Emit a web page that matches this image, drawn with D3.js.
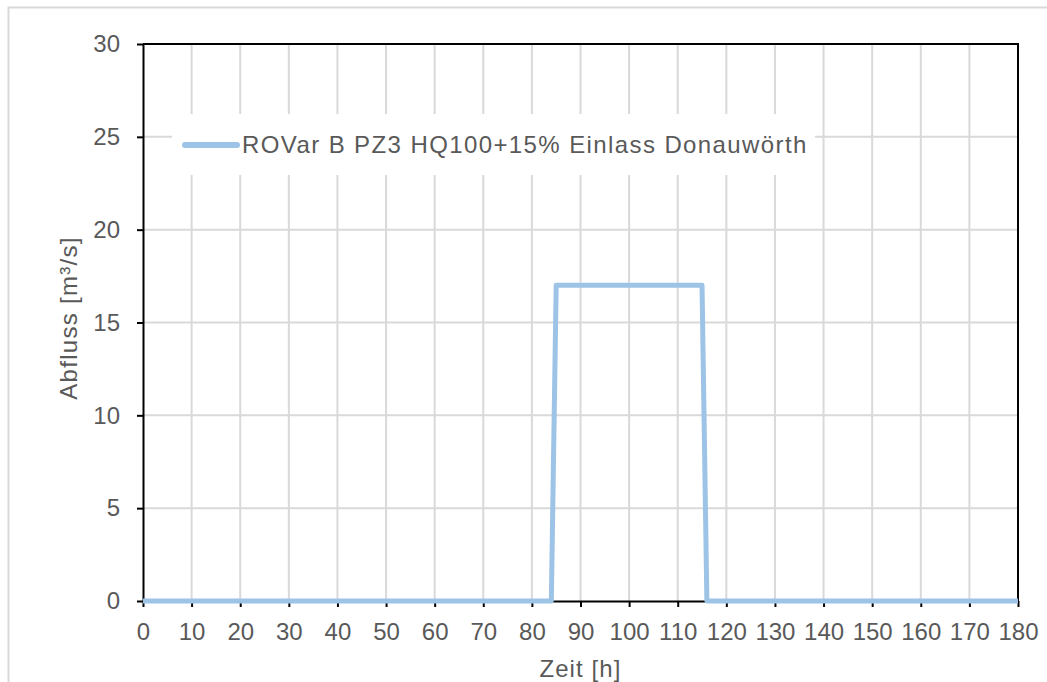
<!DOCTYPE html>
<html><head><meta charset="utf-8">
<script src="https://cdn.jsdelivr.net/npm/d3@7"></script>
<style>body{margin:0;background:#fff;}svg{display:block;font-family:"Liberation Sans",Arial,sans-serif;}</style>
</head><body>
<svg id="c" width="1047" height="682"></svg>
<script>
const timeH = [0, 84, 85, 115, 116, 180];
const flow = [0, 0, 17, 17, 0, 0];
const xTicks = d3.range(0, 181, 10);
const yTicks = [0, 5, 10, 15, 20, 25, 30];
const seriesName = "ROVar B PZ3 HQ100+15% Einlass Donauwörth";

const svg = d3.select("#c");
const L = 143, R = 1018, T = 44, B = 601;
const x = d3.scaleLinear().domain([0, 180]).range([L, R]);
const y = d3.scaleLinear().domain([0, 30]).range([B, T]);
const FONT = "Liberation Sans, Arial, sans-serif";

// outer frame
svg.append("path").attr("d", "M8.5,682 V7.5 H1047").attr("fill", "none").attr("stroke", "#d9d9d9").attr("stroke-width", 2);

// grid
svg.append("g").selectAll("line").data(xTicks.slice(1, -1)).join("line")
  .attr("x1", d => x(d)).attr("x2", d => x(d)).attr("y1", T).attr("y2", B)
  .attr("stroke", "#d9d9d9").attr("stroke-width", 2);
svg.append("g").selectAll("line").data(yTicks.slice(1, -1)).join("line")
  .attr("y1", d => y(d)).attr("y2", d => y(d)).attr("x1", L).attr("x2", R)
  .attr("stroke", "#d9d9d9").attr("stroke-width", 2);

// axes
const xAxis = svg.append("g").attr("transform", `translate(0,${B})`)
  .call(d3.axisBottom(x).tickValues(xTicks).tickSize(6).tickPadding(16).tickSizeOuter(0));
const yAxis = svg.append("g").attr("transform", `translate(${L},0)`)
  .call(d3.axisLeft(y).tickValues(yTicks).tickSize(6).tickPadding(17).tickSizeOuter(0));
[xAxis, yAxis].forEach(g => {
  g.attr("font-family", FONT).attr("font-size", 24);
  g.select(".domain").attr("stroke", "#000").attr("stroke-width", 2);
  g.selectAll(".tick line").attr("stroke", "#000").attr("stroke-width", 2);
  g.selectAll(".tick text").attr("fill", "#595959").attr("font-size", 24).attr("font-family", FONT);
});
// top and right frame of plot
svg.append("path").attr("d", `M${L},${T} H${R} V${B}`).attr("fill", "none").attr("stroke", "#000").attr("stroke-width", 2);

// data line
const line = d3.line().x((d, i) => x(timeH[i])).y(d => y(d));
svg.append("path").datum(flow).attr("d", line).attr("fill", "none")
  .attr("stroke", "#9dc3e6").attr("stroke-width", 5).attr("stroke-linejoin", "round").attr("stroke-linecap", "butt");

// legend
const lg = svg.append("g");
lg.append("rect").attr("x", 172).attr("y", 114).attr("width", 643).attr("height", 61).attr("fill", "#fff");
lg.append("line").attr("x1", 185).attr("x2", 237).attr("y1", 145).attr("y2", 145)
  .attr("stroke", "#9dc3e6").attr("stroke-width", 6).attr("stroke-linecap", "round");
lg.append("text").attr("x", 242).attr("y", 153).attr("font-size", 24).attr("letter-spacing", 1.4).attr("fill", "#595959").text(seriesName);

// axis titles
svg.append("text").attr("x", 580.5).attr("y", 677).attr("text-anchor", "middle").attr("font-size", 24).attr("letter-spacing", 1.1).attr("fill", "#595959").text("Zeit [h]");
svg.append("text").attr("transform", "translate(77,318) rotate(-90)").attr("text-anchor", "middle").attr("font-size", 24).attr("letter-spacing", 1.3).attr("fill", "#595959").text("Abfluss [m³/s]");
</script>
</body></html>
